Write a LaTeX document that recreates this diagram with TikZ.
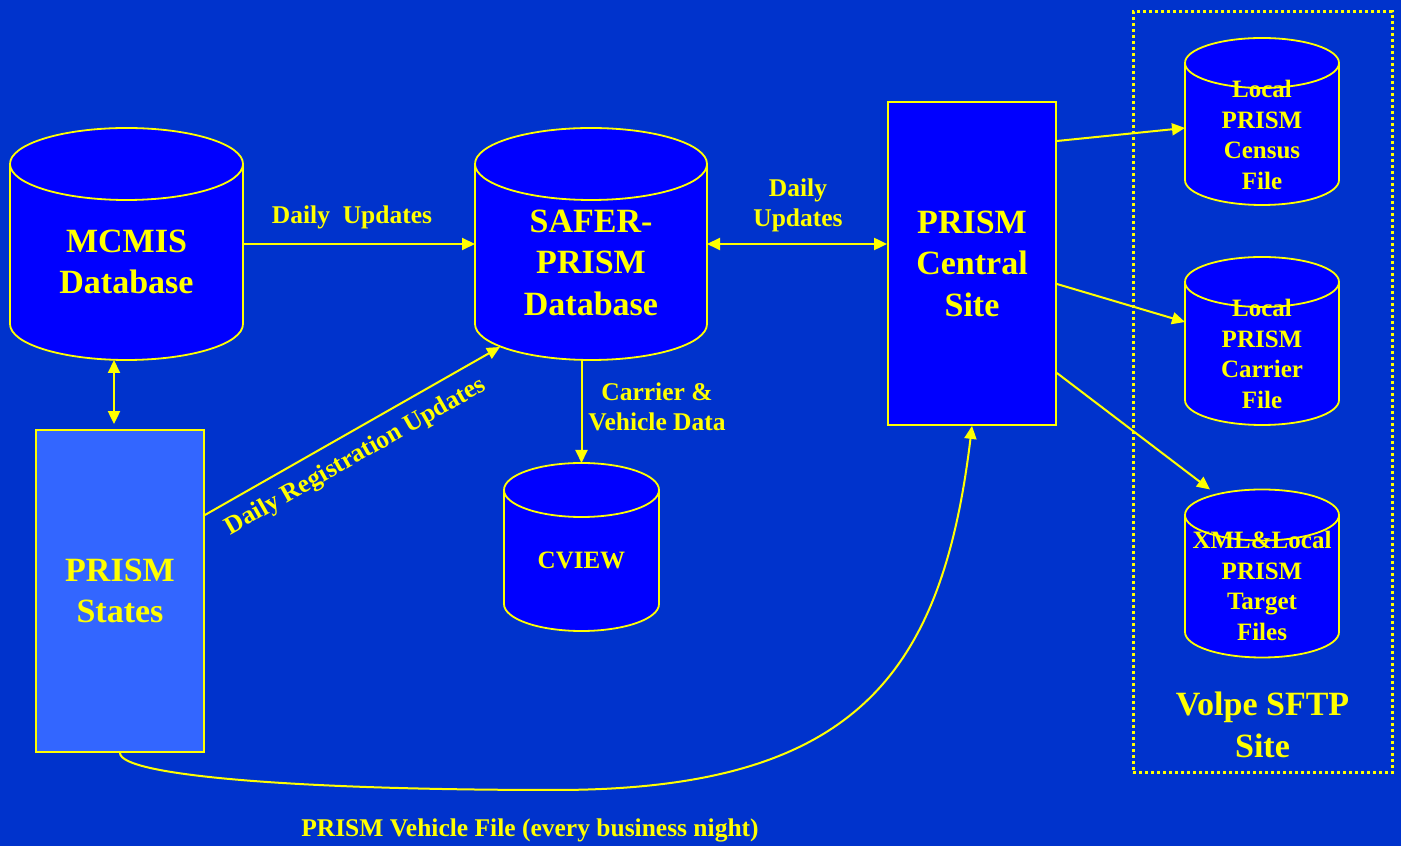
\documentclass[tikz,border=0pt]{standalone}
\usepackage{fontspec}
\setmainfont{Liberation Serif}
\usetikzlibrary{arrows.meta,calc}
\definecolor{bgblue}{HTML}{0033CC}
\definecolor{cylblue}{HTML}{0000FF}
\definecolor{stateblue}{HTML}{3366FF}
\definecolor{ylw}{HTML}{FFFF00}
\tikzset{
  cylline/.style={draw=ylw,line width=1.8pt},
  rectbox/.style={draw=ylw,line width=1.8pt,inner sep=0pt,align=center,text=ylw,
    font=\fontsize{34}{41.5}\selectfont\bfseries},
  bigtxt/.style={inner sep=0pt,align=center,text=ylw,font=\fontsize{34}{41.5}\selectfont\bfseries},
  midtxt/.style={inner sep=0pt,align=center,text=ylw,font=\fontsize{25}{30.5}\selectfont\bfseries},
  smalltxt/.style={inner sep=0pt,align=center,text=ylw,font=\fontsize{25.5}{30}\selectfont\bfseries},
  conn/.style={draw=ylw,line width=2pt,-{Triangle[length=13pt,width=12pt]}},
  dconn/.style={draw=ylw,line width=2pt,{Triangle[length=13pt,width=12pt]}-{Triangle[length=13pt,width=12pt]}},
  dotbox/.style={draw=ylw,line width=3pt,dash pattern=on 3pt off 3pt,inner sep=0pt}
}
% name, cx, Y of top ellipse centre, Y of bottom ellipse centre, rx, ry
\newcommand{\dbcyl}[6]{%
  \fill[cylblue] (#2-#5,#3) -- (#2-#5,#4)
     arc[start angle=180,end angle=360,x radius=#5pt,y radius=#6pt]
     -- (#2+#5,#3)
     arc[start angle=0,end angle=180,x radius=#5pt,y radius=#6pt] -- cycle;
  \draw[cylline] (#2-#5,#3) -- (#2-#5,#4)
     arc[start angle=180,end angle=360,x radius=#5pt,y radius=#6pt]
     -- (#2+#5,#3);
  \draw[cylline] (#2,#3) ellipse[x radius=#5pt,y radius=#6pt];
  \node[inner sep=0pt,outer sep=0pt,minimum width={2*#5pt},
        minimum height={(#3-#4+2*#6)*1pt}] (#1) at (#2,{(#3+#4)/2}) {};%
}
\begin{document}
\begin{tikzpicture}[x=1pt,y=1pt]
\fill[bgblue] (0,0) rectangle (1401,846);
\useasboundingbox (0,0) rectangle (1401,846);

% Volpe SFTP dotted frame
\node[dotbox,minimum width=259pt,minimum height=761pt] (volpe) at (1262.5,453.5) {};
\node[bigtxt] (volpetxt) at (1262.5,121) {Volpe SFTP\\Site};

% cylinders
\dbcyl{mcmis}{126.5}{682}{522}{116.5}{36}
\node[bigtxt] (mcmistxt) at (126.5,584) {MCMIS\\Database};

\dbcyl{safer}{591}{682}{522}{116}{36}
\node[bigtxt] (safertxt) at (591,583.5) {SAFER-\\PRISM\\Database};

\dbcyl{cview}{581.5}{356}{242}{77.5}{27}
\node[midtxt] (cviewtxt) at (581.5,286) {CVIEW};

\dbcyl{census}{1262}{783}{666}{77}{25}
\node[midtxt] (censustxt) at (1262,711) {Local\\PRISM\\Census\\File};

\dbcyl{carrier}{1262}{564}{446}{77}{25}
\node[midtxt] (carriertxt) at (1262,492) {Local\\PRISM\\Carrier\\File};

\dbcyl{target}{1262}{331}{214}{77}{25.5}
\node[midtxt] (targettxt) at (1262,260) {XML\&Local\\PRISM\\Target\\Files};

% rectangles
\node[rectbox,fill=cylblue,minimum width=168pt,minimum height=323pt] (central) at (972,582.5) {PRISM\\Central\\Site};
\node[rectbox,fill=stateblue,minimum width=168pt,minimum height=322pt] (states) at (120,255) {PRISM\\States};

% connectors
\draw[conn] (mcmis.east) -- (safer.west);
\draw[dconn] (safer.east) -- (safer.east -| central.west);
\draw[dconn] ($(mcmis.south)+(-12.5,0)$) -- ($(states.north)+(-6,5)$);
\draw[conn] ($(states.east)+(0,76)$) -- ($(safer.south)+(-91,13)$);
\draw[conn] (safer.south -| cview.north) -- (cview.north);
\draw[conn] ($(central.east)+(0,122.5)$) -- ($(census.west)+(0,-6.5)$);
\draw[conn] ($(central.east)+(0,-20.5)$) -- ($(carrier.west)+(0,19)$);
\draw[conn] ($(central.east)+(0,-109.5)$) -- ($(target.north)+(-52,0)$);
\draw[conn] (states.south) .. controls +(0,-23) and (300,56) .. (555,56)
   .. controls (855,56) and (942,171) .. (central.south);

% labels
\node[smalltxt] (lblmcmis) at (352,629) {Daily\ \ Updates};
\node[smalltxt] (lblcentral) at (798,641) {Daily\\Updates};
\node[smalltxt] (lblcview) at (657,439) {Carrier \&\\Vehicle Data};
\node[smalltxt,rotate=29.6] (lblreg) at (356,389) {Daily Registration Updates};
\node[smalltxt] (lblvehicle) at (530,16) {PRISM Vehicle File (every business night)};
\end{tikzpicture}
\end{document}
